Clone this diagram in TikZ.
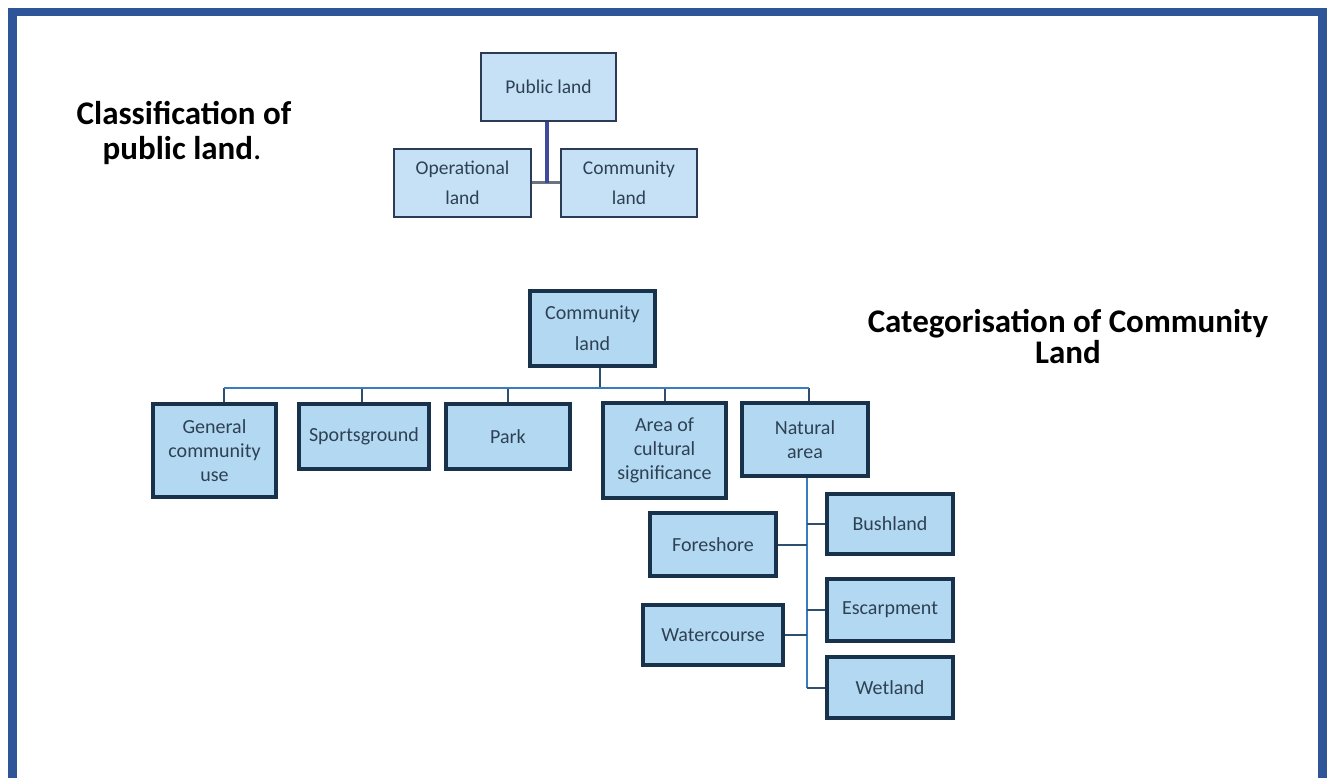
\documentclass[tikz,border=0pt]{standalone}
\usepackage{fontspec}
\setmainfont{Carlito}
\definecolor{framecol}{HTML}{2E5597}
\definecolor{topline}{HTML}{2B3A55}
\definecolor{topfill}{HTML}{C6E0F6}
\definecolor{botline}{HTML}{17324A}
\definecolor{botfill}{HTML}{B3D8F1}
\definecolor{txt}{HTML}{2E4154}
\definecolor{stemcol}{HTML}{3F4A9C}
\definecolor{barcol}{HTML}{6B7280}
\definecolor{buscol}{HTML}{3A7CC0}
\definecolor{dropcol}{HTML}{2F4F6F}
\begin{document}
\begin{tikzpicture}[x=1pt,y=-1pt,
  topbox/.style={draw=topline, fill=topfill, line width=2pt, inner sep=0pt, align=center,
    font=\fontsize{19.5}{30}\selectfont, text=txt},
  botbox/.style={draw=botline, fill=botfill, line width=4pt, inner sep=0pt, align=center,
    font=\fontsize{20}{24}\selectfont, text=txt},
  sz/.style 2 args={minimum width=#1pt, minimum height=#2pt},
  title/.style={font=\bfseries\fontsize{33}{35}\selectfont, text=black, anchor=base, inner sep=0pt},
  busline/.style={draw=buscol, line width=2pt},
  dropline/.style={draw=dropcol, line width=2pt},
  stemline/.style={draw=stemcol, line width=4pt},
  barline/.style={draw=barcol, line width=3pt}]
\useasboundingbox (0,0) rectangle (1332,778);
\fill[white] (0,0) rectangle (1332,778);
% frame (no bottom edge)
\draw[framecol, line width=8.5pt, line join=miter] (12.25,790) -- (12.25,12.25) -- (1322.5,12.25) -- (1322.5,790);

% titles
\node[title] (cls1) at (184,125) {Classification of};
\node[title] (cls2) at (182,160) {public land{\mdseries.}};
\node[title] (cat1) at (1068,332) {Categorisation of Community};
\node[title] (cat2) at (1068,363) {Land};

% top diagram
\node[topbox, sz={135}{68}] (pub) at (548.5,87) {Public land};
\node[topbox, sz={137}{68}] (oper) at (462.5,183) {Operational\\land};
\node[topbox, sz={136}{68}] (comm1) at (629,183) {Community\\land};
\draw[barline] (oper.east) -- (comm1.west);
\draw[stemline] ([xshift=-1.5pt]pub.south) -- ([xshift=-1.5pt]pub.south |- oper.east);

% bottom diagram
\coordinate (busy) at (0,388);
\node[botbox, sz={125}{75}, font=\fontsize{20}{31}\selectfont] (comm2) at (592.5,328.5) {Community\\land};
\node[botbox, sz={123}{93}] (gcu) at (214.5,450.5) {General\\community\\use};
\node[botbox, sz={130}{65}] (sport) at (364,436.5) {Sportsground};
\node[botbox, sz={124}{65}] (park) at (508,436.5) {Park};
\node[botbox, sz={123}{95}] (area) at (664.5,450.5) {Area of\\cultural\\significance};
\node[botbox, sz={126}{73}] (nat) at (805,439.5) {Natural\\area};
\node[botbox, sz={126}{60}] (bush) at (890,524) {Bushland};
\node[botbox, sz={126}{63}] (fore) at (713,544.5) {Foreshore};
\node[botbox, sz={126}{62}] (esc) at (890,610) {Escarpment};
\node[botbox, sz={140}{60}] (water) at (713,635) {Watercourse};
\node[botbox, sz={126}{61}] (wet) at (890,687.5) {Wetland};

\draw[dropline] ([xshift=7.5pt]comm2.south) -- ([xshift=7.5pt]comm2.south |- busy);
\draw[dropline] ([xshift=9.5pt]gcu.north) -- ([xshift=9.5pt]gcu.north |- busy);
\draw[dropline] ([xshift=-2pt]sport.north) -- ([xshift=-2pt]sport.north |- busy);
\draw[dropline] (park.north) -- (park.north |- busy);
\draw[dropline] (area.north) -- (area.north |- busy);
\draw[dropline] ([xshift=4pt]nat.north) -- ([xshift=4pt]nat.north |- busy);
\draw[busline] ([xshift=9.5pt]gcu.north |- busy) -- ([xshift=4pt]nat.north |- busy);

\coordinate (vx) at ([xshift=2pt]nat.south);
\draw[busline] (vx) -- (vx |- wet.west);
\draw[dropline] (bush.west) -- (bush.west -| vx);
\draw[dropline] (esc.west) -- (esc.west -| vx);
\draw[dropline] (wet.west) -- (wet.west -| vx);
\draw[dropline] (fore.east) -- (fore.east -| vx);
\draw[dropline] (water.east) -- (water.east -| vx);
\end{tikzpicture}
\end{document}
